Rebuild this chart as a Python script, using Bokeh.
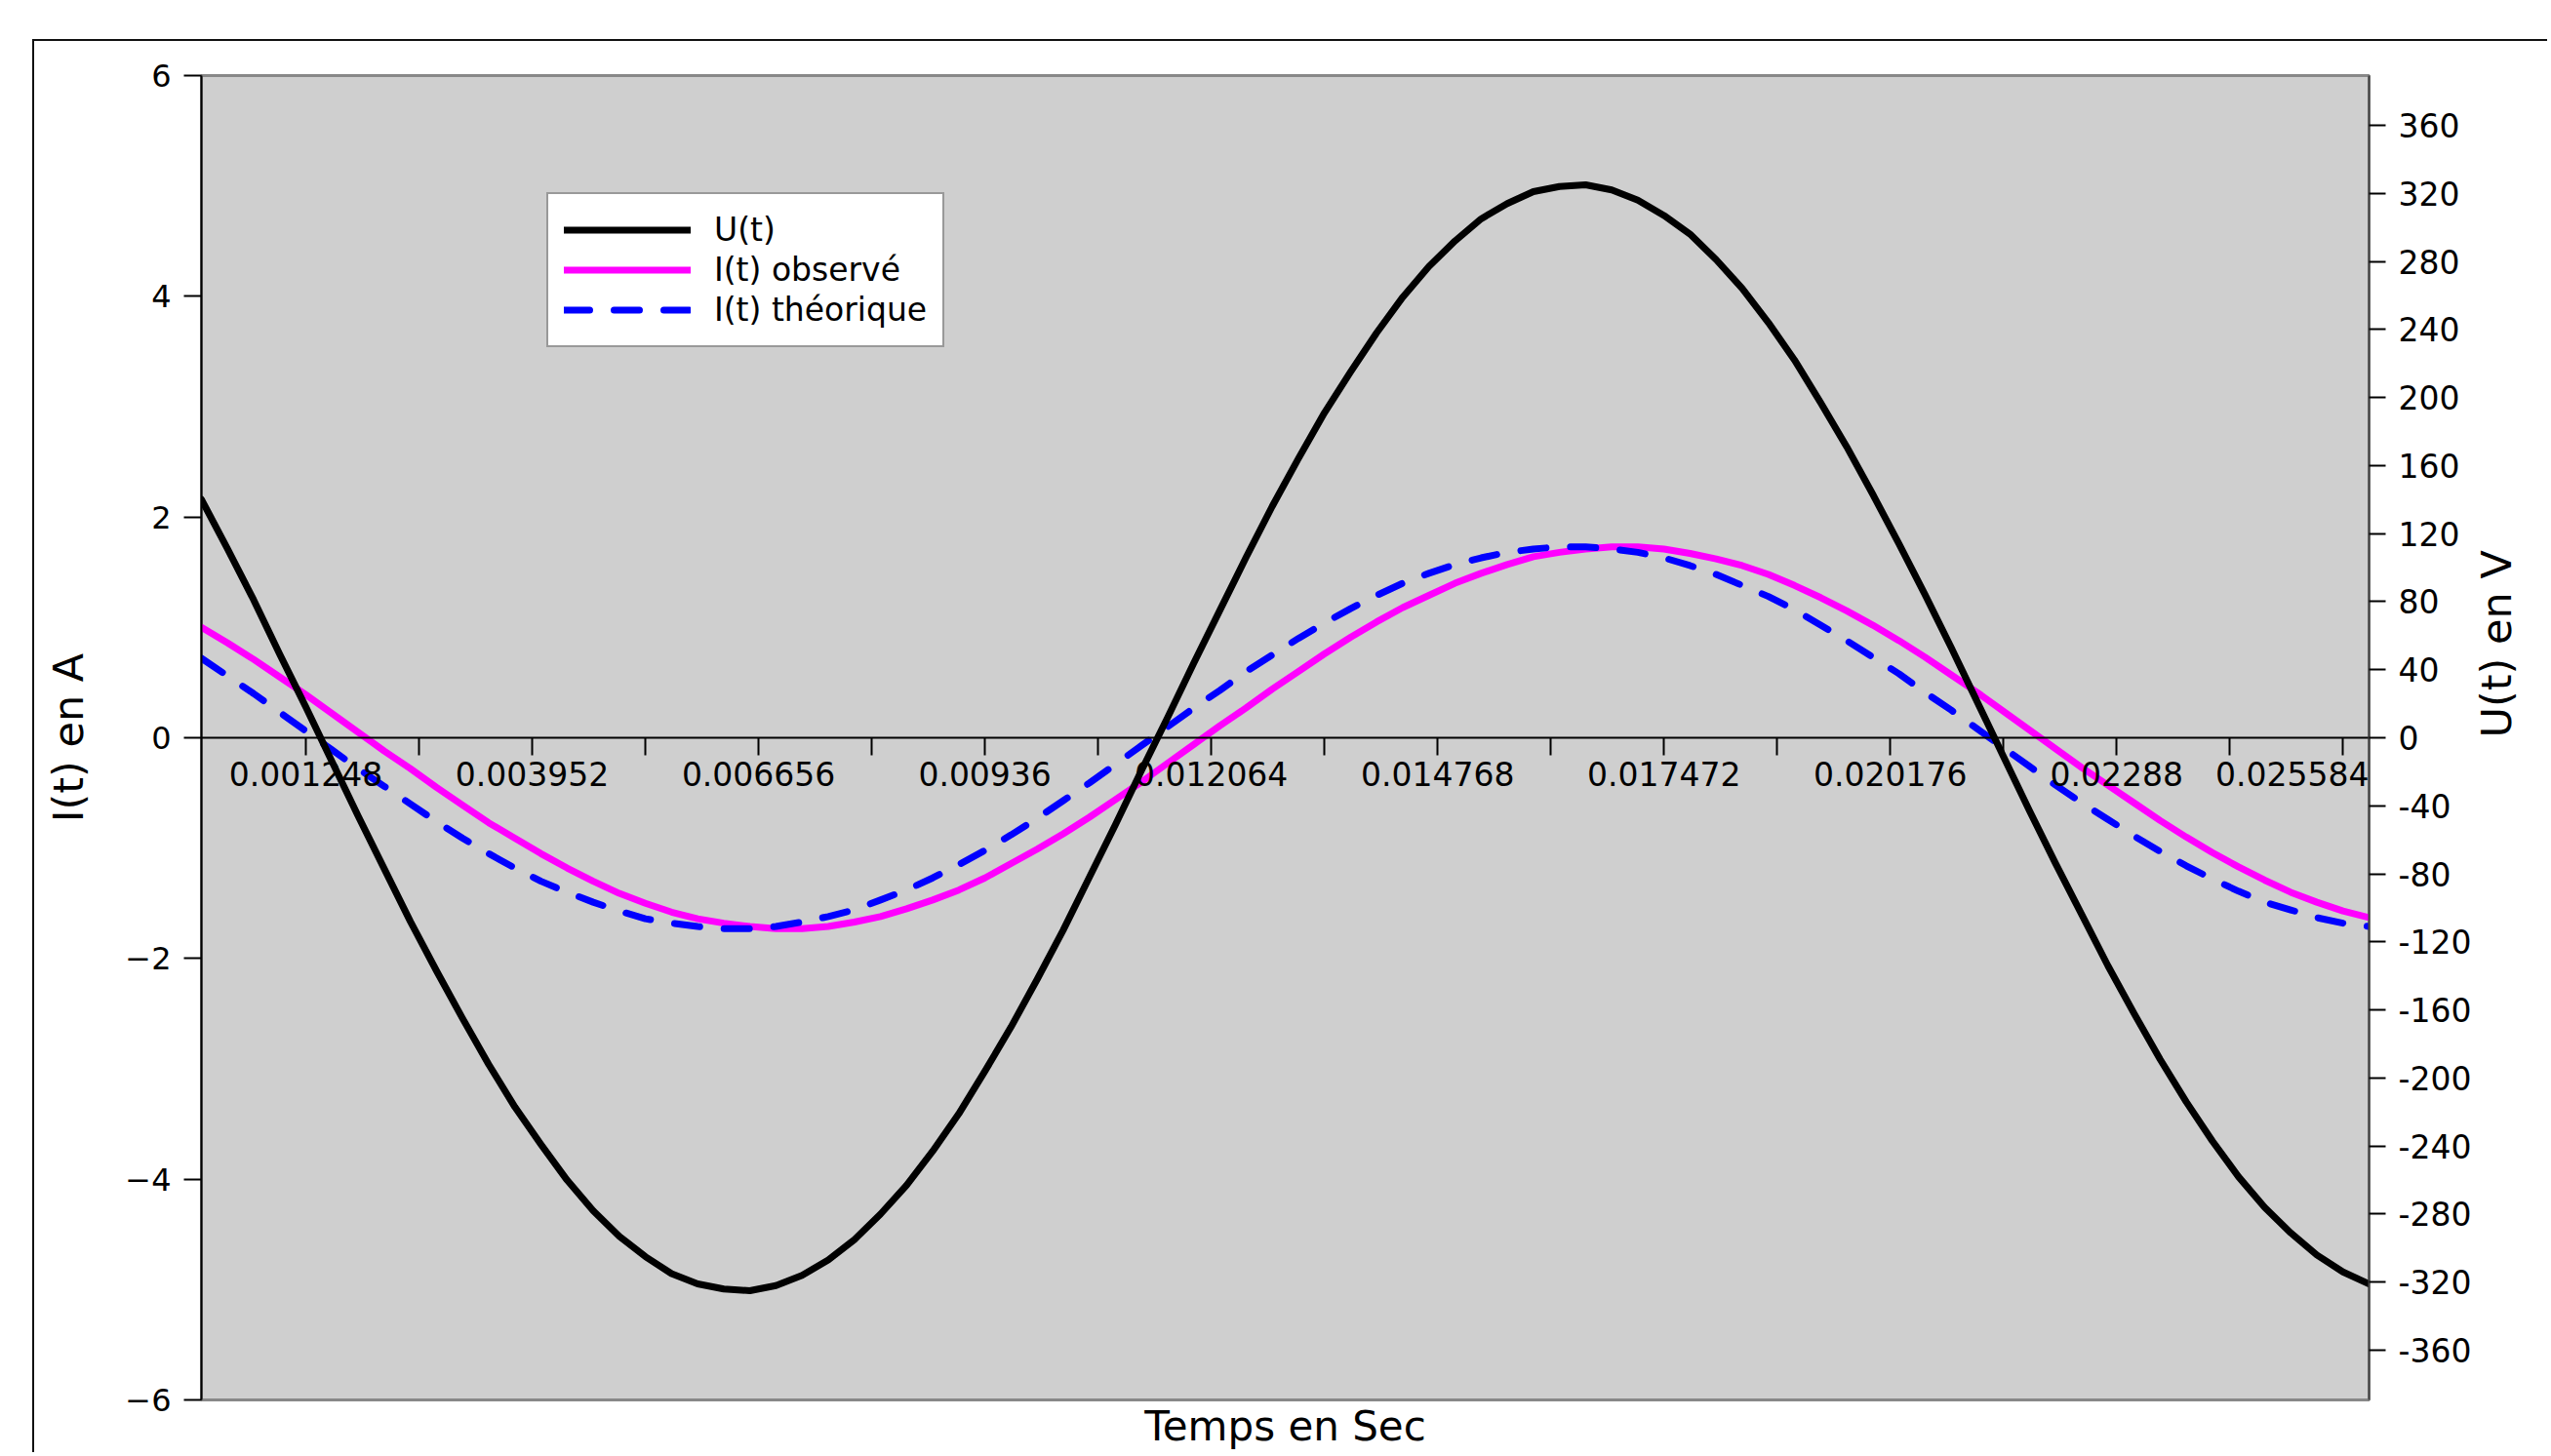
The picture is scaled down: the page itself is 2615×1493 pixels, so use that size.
import math
from bokeh.plotting import figure
from bokeh.models import (Range1d, LinearAxis, FixedTicker, Legend, LegendItem,
                          LabelSet, ColumnDataSource, Title)
from bokeh.core.properties import value
from bokeh.embed import file_html
from bokeh.resources import INLINE

# ---------------- data ----------------
temps = [0.0, 0.000312, 0.000624, 0.000936, 0.001248, 0.00156, 0.001872, 0.002184, 0.002496, 0.002808,
         0.00312, 0.003432, 0.003744, 0.004056, 0.004368, 0.00468, 0.004992, 0.005304, 0.005616, 0.005928,
         0.00624, 0.006552, 0.006864, 0.007176, 0.007488, 0.0078, 0.008112, 0.008424, 0.008736, 0.009048,
         0.00936, 0.009672, 0.009984, 0.010296, 0.010608, 0.01092, 0.011232, 0.011544, 0.011856, 0.012168,
         0.01248, 0.012792, 0.013104, 0.013416, 0.013728, 0.01404, 0.014352, 0.014664, 0.014976, 0.015288,
         0.0156, 0.015912, 0.016224, 0.016536, 0.016848, 0.01716, 0.017472, 0.017784, 0.018096, 0.018408,
         0.01872, 0.019032, 0.019344, 0.019656, 0.019968, 0.02028, 0.020592, 0.020904, 0.021216, 0.021528,
         0.02184, 0.022152, 0.022464, 0.022776, 0.023088, 0.0234, 0.023712, 0.024024, 0.024336, 0.024648,
         0.02496, 0.025272, 0.025584, 0.025896]

u_volts = [140, 111, 81, 49, 18, -14, -46, -77, -108, -137,
           -165, -192, -217, -239, -260, -278, -293, -305, -315, -321,
           -324, -325, -322, -316, -307, -295, -280, -263, -243, -221,
           -196, -170, -142, -113, -82, -51, -19, 12, 44, 75,
           106, 136, 164, 191, 215, 238, 259, 277, 292, 305,
           314, 321, 324, 325, 322, 316, 307, 296, 281, 264,
           244, 222, 197, 171, 143, 114, 84, 53, 21, -11,
           -43, -74, -104, -134, -162, -189, -214, -237, -258, -276,
           -291, -304, -314, -321]

i_observe = [1.00, 0.86, 0.71, 0.55, 0.39, 0.22, 0.05, -0.12, -0.28, -0.45,
             -0.61, -0.77, -0.91, -1.05, -1.18, -1.30, -1.41, -1.50, -1.58, -1.64,
             -1.68, -1.71, -1.73, -1.73, -1.71, -1.67, -1.62, -1.55, -1.47, -1.38,
             -1.27, -1.14, -1.01, -0.87, -0.72, -0.56, -0.40, -0.23, -0.06, 0.11,
             0.27, 0.44, 0.60, 0.76, 0.91, 1.05, 1.18, 1.29, 1.40, 1.49,
             1.57, 1.64, 1.68, 1.71, 1.73, 1.73, 1.71, 1.67, 1.62, 1.56,
             1.48, 1.38, 1.27, 1.15, 1.02, 0.88, 0.73, 0.57, 0.41, 0.24,
             0.07, -0.10, -0.27, -0.43, -0.59, -0.75, -0.90, -1.04, -1.17, -1.29,
             -1.40, -1.49, -1.57, -1.63]

i_theorique = [0.72, 0.56, 0.40, 0.23, 0.06, -0.11, -0.28, -0.44, -0.60, -0.76,
               -0.91, -1.05, -1.18, -1.30, -1.40, -1.49, -1.57, -1.64, -1.68, -1.71,
               -1.73, -1.73, -1.71, -1.67, -1.62, -1.56, -1.47, -1.38, -1.27, -1.15,
               -1.02, -0.88, -0.73, -0.57, -0.41, -0.24, -0.07, 0.10, 0.27, 0.43,
               0.60, 0.75, 0.90, 1.04, 1.17, 1.29, 1.40, 1.49, 1.57, 1.63,
               1.68, 1.71, 1.73, 1.73, 1.71, 1.68, 1.63, 1.56, 1.48, 1.38,
               1.28, 1.16, 1.02, 0.88, 0.73, 0.58, 0.41, 0.25, 0.08, -0.09,
               -0.26, -0.43, -0.59, -0.74, -0.89, -1.03, -1.16, -1.28, -1.39, -1.49,
               -1.56, -1.63, -1.68, -1.71]

series_labels = ["U(t)", "I(t) observé", "I(t) théorique"]
x_title = "Temps en Sec"
y_left_title = "I(t) en A"
y_right_title = "U(t) en V"

x_tick_values = [0.001248, 0.003952, 0.006656, 0.00936, 0.012064,
                 0.014768, 0.017472, 0.020176, 0.02288, 0.025584]
x_tick_labels = ["0.001248", "0.003952", "0.006656", "0.00936", "0.012064",
                 "0.014768", "0.017472", "0.020176", "0.02288", "0.025584"]
x_minor_values = [0.0026, 0.005304, 0.008008, 0.010712, 0.013416,
                  0.01612, 0.018824, 0.021528, 0.024232]

y_left_ticks = [-6, -4, -2, 0, 2, 4, 6]
y_left_labels = ["\u22126", "\u22124", "\u22122", "0", "2", "4", "6"]
y_right_ticks = [-360, -320, -280, -240, -200, -160, -120, -80, -40, 0,
                 40, 80, 120, 160, 200, 240, 280, 320, 360]
y_right_labels = ["-360", "-320", "-280", "-240", "-200", "-160", "-120", "-80", "-40", "0",
                  "40", "80", "120", "160", "200", "240", "280", "320", "360"]

# ---------------- figure ----------------
FONT = "DejaVu Sans"

p = figure(width=2578, height=1449,
           x_range=Range1d(0, 0.025896), y_range=Range1d(-6, 6),
           output_backend="svg", toolbar_location=None, title=None,
           min_border_left=171, min_border_right=185,
           min_border_top=35, min_border_bottom=56)
p.margin = (40, 0, 0, 33)
p.styles = {"border-top": "2px solid #111111", "border-left": "2px solid #111111"}

p.background_fill_color = "#cfcfcf"
p.border_fill_color = "white"
p.outline_line_color = "#888888"
p.outline_line_width = 3
p.xgrid.visible = False
p.ygrid.visible = False

p.extra_y_ranges = {"volts": Range1d(-389.2, 389.2)}

# x axis crossing at I = 0 (line and ticks; labels drawn as a LabelSet)
xa = p.xaxis[0]
xa.fixed_location = 0
xa.ticker = FixedTicker(ticks=x_tick_values, minor_ticks=x_minor_values)
xa.axis_line_color = "black"
xa.axis_line_width = 2
xa.major_tick_in = 0
xa.major_tick_out = 18
xa.minor_tick_in = 0
xa.minor_tick_out = 18
xa.major_tick_line_color = "black"
xa.minor_tick_line_color = "black"
xa.major_tick_line_width = 2
xa.minor_tick_line_width = 2
xa.major_label_text_color = None

# left axis
ya = p.yaxis[0]
ya.ticker = FixedTicker(ticks=y_left_ticks)
ya.major_label_overrides = dict(zip(y_left_ticks, y_left_labels))
ya.axis_label = y_left_title
ya.axis_label_text_font = FONT
ya.axis_label_text_font_size = "43px"
ya.axis_label_text_font_style = "normal"
ya.axis_label_text_color = "black"
ya.axis_label_standoff = 30
ya.axis_line_color = "black"
ya.axis_line_width = 2
ya.major_tick_in = 0
ya.major_tick_out = 18
ya.major_tick_line_width = 2
ya.minor_tick_line_color = None
ya.major_label_standoff = 13
ya.major_label_text_font = FONT
ya.major_label_text_font_size = "32px"
ya.major_label_text_color = "black"

# right axis
ra = LinearAxis(y_range_name="volts", ticker=FixedTicker(ticks=y_right_ticks),
                axis_label=y_right_title)
ra.major_label_overrides = dict(zip(y_right_ticks, y_right_labels))
ra.axis_label_text_font = FONT
ra.axis_label_text_font_size = "43px"
ra.axis_label_text_font_style = "normal"
ra.axis_label_text_color = "black"
ra.axis_label_standoff = 23
if "axis_label_orientation" in ra.properties():
    ra.axis_label_orientation = math.pi / 2
ra.axis_line_color = "#444444"
ra.axis_line_width = 2
ra.major_tick_in = 0
ra.major_tick_out = 17
ra.major_tick_line_width = 2
ra.minor_tick_line_color = None
ra.major_label_standoff = 13
ra.major_label_text_font = FONT
ra.major_label_text_font_size = "33px"
ra.major_label_text_color = "black"
p.add_layout(ra, "right")

# bottom title
p.add_layout(Title(text=x_title, align="center", vertical_align="bottom",
                   text_font=FONT, text_font_size="42px", text_font_style="normal",
                   text_color="black", standoff=0, offset=0), "below")

# ---------------- series ----------------
r_obs = p.line(temps, i_observe, line_color="#ff00ff", line_width=7,
               line_join="round", line_cap="round")
r_th = p.line(temps, i_theorique, line_color="#0000ff", line_width=7,
              line_dash="26 25", line_cap="round", line_join="round")
r_u = p.line(temps, u_volts, y_range_name="volts", line_color="black",
             line_width=7, line_join="round", line_cap="round")

# x tick labels under the zero line (last one kept inside the plot area)
label_dx = [0] * (len(x_tick_values) - 1) + [-52]
tick_src = ColumnDataSource(data=dict(x=x_tick_values, y=[0] * len(x_tick_values),
                                      text=x_tick_labels, dx=label_dx))
p.add_layout(LabelSet(x="x", y="y", text="text", source=tick_src,
                      x_offset="dx", y_offset=-49,
                      text_align="center", text_baseline="alphabetic",
                      text_font=value(FONT), text_font_size=value("33px"),
                      text_color="black"))

legend = Legend(items=[LegendItem(label=series_labels[0], renderers=[r_u]),
                       LegendItem(label=series_labels[1], renderers=[r_obs]),
                       LegendItem(label=series_labels[2], renderers=[r_th])],
                location=(354, 1079), orientation="vertical",
                padding=16, spacing=0, margin=0,
                glyph_width=130, glyph_height=41, label_height=41,
                label_standoff=24, label_text_font=FONT,
                label_text_font_size="33px", label_text_color="black",
                border_line_color="#333333", border_line_width=2,
                background_fill_color="white", background_fill_alpha=1.0)
p.add_layout(legend)

open("out.html", "w").write(file_html(p, INLINE))
